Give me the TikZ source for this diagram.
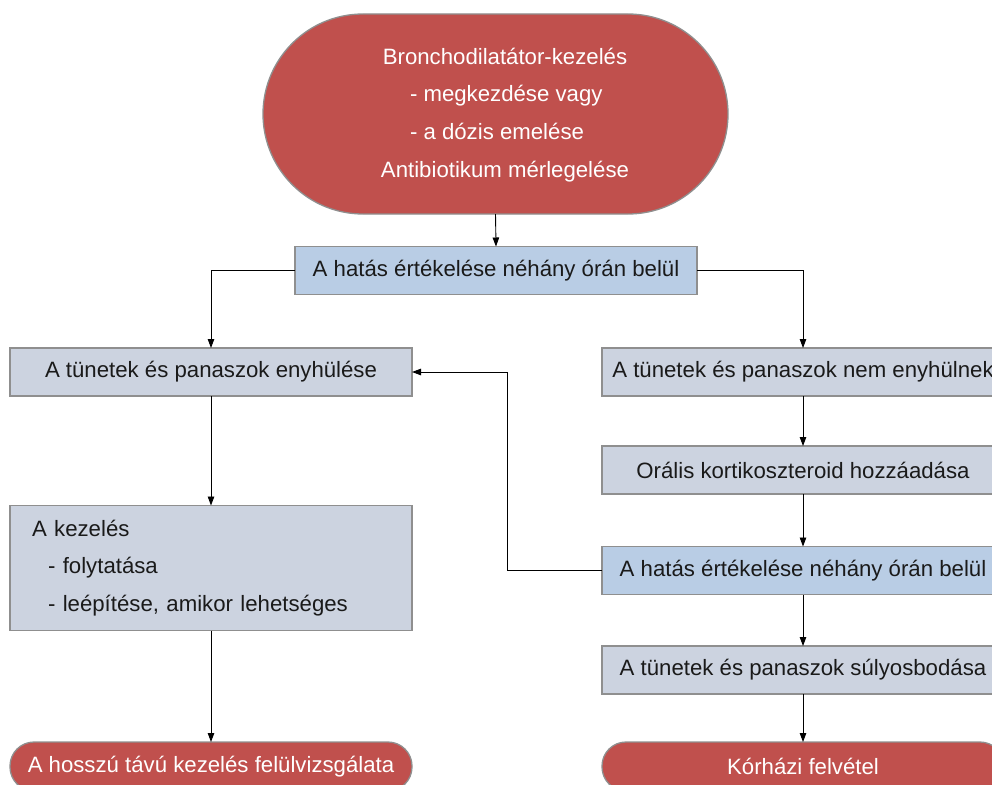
\documentclass[tikz,border=0pt]{standalone}
\usepackage{fontspec}
\setmainfont{Liberation Sans}
\usetikzlibrary{arrows.meta}
\definecolor{termred}{HTML}{C0504D}
\definecolor{evalblue}{HTML}{B9CDE5}
\definecolor{stepgray}{HTML}{CCD3E0}
\definecolor{edgegray}{HTML}{8F8F8F}
\definecolor{inkgray}{HTML}{1A1A1A}

\begin{document}
\begin{tikzpicture}[x=1pt,y=-1pt,
  every node/.style={font=\fontsize{22.2}{37.8}\selectfont, text=inkgray},
  box/.style={draw=edgegray, line width=1.3pt, inner sep=0pt, outer sep=0pt,
              minimum width=402pt, minimum height=48pt},
  stepbox/.style={box, fill=stepgray},
  evalbox/.style={box, fill=evalblue},
  term/.style={box, fill=termred, text=white, rounded corners=24pt, minimum height=49pt},
  link/.style={line width=0.9pt, -{Triangle[length=9pt,width=6.5pt]}}
]
\useasboundingbox (0,0) rectangle (992,784);
\clip (0,0) rectangle (992,784);

% start of treatment
\node[box, fill=termred, minimum width=465pt, minimum height=200pt,
      rounded corners=100pt] (start) at (495.5,114) {};
\node[text=white, align=center, inner sep=0pt] (starttext) at (505,115)
  {Bronchodilatátor-kezelés\\
   \makebox[190pt][l]{- megkezdése vagy}\\
   \makebox[190pt][l]{- a dózis emelése}\\
   Antibiotikum mérlegelése};

% first evaluation
\node[evalbox] (eval1) at (496,270.5) {A hatás értékelése néhány órán belül};

% left branch
\node[stepbox] (relief) at (211,372) {A tünetek és panaszok enyhülése};
\node[stepbox, minimum height=125pt, text width=358pt, inner xsep=22pt,
      align=left] (continue) at (211,568)
  {A kezelés\\
   \hspace*{16pt}- folytatása\\
   \hspace*{16pt}- leépítése, amikor lehetséges};
\node[term] (review) at (211,766.5) {A hosszú távú kezelés felülvizsgálata};

% right branch
\node[stepbox] (norelief) at (803,372) {A tünetek és panaszok nem enyhülnek};
\node[stepbox] (oral) at (803,470) {Orális kortikoszteroid hozzáadása};
\node[evalbox] (eval2) at (803,570.5) {A hatás értékelése néhány órán belül};
\node[stepbox] (worse) at (803,670) {A tünetek és panaszok súlyosbodása};
\node[term] (admit) at (803,766.5) {Kórházi felvétel};

% connectors
\draw[link] (start.south) -- (eval1.north);
\draw[link] (eval1.west) -| (relief.north);
\draw[link] (eval1.east) -| (norelief.north);
\draw[link] (relief.south) -- (continue.north);
\draw[link] (continue.south) -- (review.north);
\draw[link] (norelief.south) -- (oral.north);
\draw[link] (oral.south) -- (eval2.north);
\draw[link] (eval2.west) -- ++(-95,0) |- (relief.east);
\draw[link] (eval2.south) -- (worse.north);
\draw[link] (worse.south) -- (admit.north);
\end{tikzpicture}
\end{document}
